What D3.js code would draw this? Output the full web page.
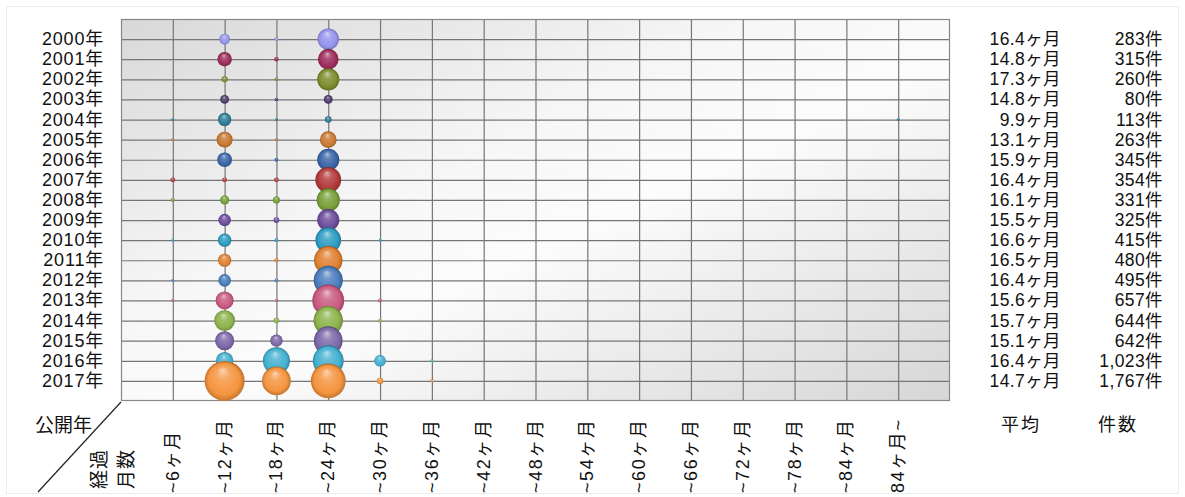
<!DOCTYPE html>
<html>
<head>
<meta charset="utf-8">
<script src="https://cdn.jsdelivr.net/npm/d3@7"></script>
<style>
  html, body { margin: 0; padding: 0; background: #ffffff; }
  svg { display: block; }
  text { font-family: "Liberation Sans", "Noto Sans CJK JP", sans-serif; fill: #111; }
</style>
</head>
<body>
<svg id="chart" width="1185" height="497"></svg>
<script>
// ---------------- data ----------------
const years = ["2000年","2001年","2002年","2003年","2004年","2005年","2006年","2007年","2008年",
  "2009年","2010年","2011年","2012年","2013年","2014年","2015年","2016年","2017年"];
const buckets = ["~6ヶ月","~12ヶ月","~18ヶ月","~24ヶ月","~30ヶ月","~36ヶ月","~42ヶ月","~48ヶ月",
  "~54ヶ月","~60ヶ月","~66ヶ月","~72ヶ月","~78ヶ月","~84ヶ月","84ヶ月~"];
const averages = ["16.4ヶ月","14.8ヶ月","17.3ヶ月","14.8ヶ月","9.9ヶ月","13.1ヶ月","15.9ヶ月","16.4ヶ月",
  "16.1ヶ月","15.5ヶ月","16.6ヶ月","16.5ヶ月","16.4ヶ月","15.6ヶ月","15.7ヶ月","15.1ヶ月","16.4ヶ月","14.7ヶ月"];
const totals = ["283件","315件","260件","80件","113件","263件","345件","354件","331件","325件",
  "415件","480件","495件","657件","644件","642件","1,023件","1,767件"];
// counts per year (rows) for each elapsed-month bucket (columns)
const counts = [
  [0, 55,  7,221, 0,0,0,0,0,0,0,0,0,0,0],
  [0,100,  9,206, 0,0,0,0,0,0,0,0,0,0,0],
  [0, 18,  6,236, 0,0,0,0,0,0,0,0,0,0,0],
  [0, 37,  6, 37, 0,0,0,0,0,0,0,0,0,0,0],
  [3, 85,  3, 21, 0,0,0,0,0,0,0,0,0,0,1],
  [3,122,  3,135, 0,0,0,0,0,0,0,0,0,0,0],
  [0,104,  7,234, 0,0,0,0,0,0,0,0,0,0,0],
  [11,11, 11,321, 0,0,0,0,0,0,0,0,0,0,0],
  [8, 40, 24,259, 0,0,0,0,0,0,0,0,0,0,0],
  [0, 75, 16,234, 0,0,0,0,0,0,0,0,0,0,0],
  [2, 86,  7,316, 4,0,0,0,0,0,0,0,0,0,0],
  [0, 83,  8,389, 0,0,0,0,0,0,0,0,0,0,0],
  [4, 76,  7,408, 0,0,0,0,0,0,0,0,0,0,0],
  [2,155,  4,489, 7,0,0,0,0,0,0,0,0,0,0],
  [0,208, 15,414, 7,0,0,0,0,0,0,0,0,0,0],
  [0,175, 73,394, 0,0,0,0,0,0,0,0,0,0,0],
  [0,146,353,457,65,2,0,0,0,0,0,0,0,0,0],
  [0,768,396,582,19,2,0,0,0,0,0,0,0,0,0]
];
const yearColors = ["#9494ec","#9c2c5c","#7c8c2c","#4c3c6c","#2c7c98","#c87830",
  "#3a64a8","#b23a3a","#78a03a","#6c4c9c","#2c9cc2","#e08030",
  "#4a7cbc","#c85a80","#8cb24c","#7c68a8","#42b0d0","#f4943e"];
const headerYear = "公開年";
const headerMonthLines = ["経過","月数"];
const footerLabels = ["平均","件数"];

// ---------------- layout ----------------
const svg = d3.select("#chart");
const plot = { left: 121, top: 19, right: 950, bottom: 401 };

const x = d3.scalePoint().domain(buckets).range([plot.left, plot.right]).padding(1);
const y = d3.scalePoint().domain(years).range([plot.top, plot.bottom]).padding(1);
const r = d3.scaleSqrt().domain([0, d3.max(counts.flat())]).range([0, 20]);

const defs = svg.append("defs");

// outer faint frame
svg.append("rect").attr("x", 6.5).attr("y", 6.5).attr("width", 1172).attr("height", 487)
  .attr("fill", "none").attr("stroke", "#ececec");

// plot background gradient
const bg = defs.append("linearGradient").attr("id", "bg")
  .attr("x1", 0).attr("y1", 0).attr("x2", 1).attr("y2", 1);
[[0, "#d8d8d8"], [0.38, "#f6f6f6"], [0.55, "#fcfcfc"], [1, "#d6d6d6"]].forEach(([o, c]) =>
  bg.append("stop").attr("offset", o).attr("stop-color", c));

svg.append("rect")
  .attr("x", plot.left).attr("y", plot.top)
  .attr("width", plot.right - plot.left).attr("height", plot.bottom - plot.top)
  .attr("fill", "url(#bg)");

// gridlines via axes
const gridColor = "#767676";
const gx = svg.append("g").attr("transform", `translate(0,${plot.top})`)
  .call(d3.axisBottom(x).tickSize(plot.bottom - plot.top).tickFormat(""));
const gy = svg.append("g").attr("transform", `translate(${plot.left},0)`)
  .call(d3.axisRight(y).tickSize(plot.right - plot.left).tickFormat(""));
[gx, gy].forEach(g => {
  g.select(".domain").remove();
  g.selectAll("line").attr("stroke", gridColor).attr("stroke-width", 1.2);
});

svg.append("rect")
  .attr("x", plot.left + 0.5).attr("y", plot.top + 0.5)
  .attr("width", plot.right - plot.left - 1).attr("height", plot.bottom - plot.top - 1)
  .attr("fill", "none").attr("stroke", "#888").attr("stroke-width", 1.2);

// sphere gradients
yearColors.forEach((c, i) => {
  const base = d3.color(c);
  const g = defs.append("radialGradient").attr("id", "sph" + i)
    .attr("cx", 0.5).attr("cy", 0.55).attr("r", 0.55).attr("fx", 0.45).attr("fy", 0.22);
  g.append("stop").attr("offset", 0).attr("stop-color", d3.interpolateRgb(c, "#ffffff")(0.6));
  g.append("stop").attr("offset", 0.3).attr("stop-color", d3.interpolateRgb(c, "#ffffff")(0.18));
  g.append("stop").attr("offset", 0.72).attr("stop-color", c);
  g.append("stop").attr("offset", 1).attr("stop-color", base.darker(1.1).formatHex());
});

// bubbles
const bubbleData = [];
counts.forEach((row, yi) => row.forEach((v, bi) => {
  if (v > 0) bubbleData.push({ year: years[yi], bucket: buckets[bi], v, yi });
}));
svg.append("g").selectAll("circle").data(bubbleData).join("circle")
  .attr("cx", d => x(d.bucket))
  .attr("cy", d => y(d.year))
  .attr("r", d => Math.max(1.4, r(d.v)))
  .attr("fill", d => `url(#sph${d.yi})`);

// year labels (left)
svg.append("g").selectAll("text").data(years).join("text")
  .attr("x", 104).attr("y", d => y(d))
  .attr("text-anchor", "end").attr("dominant-baseline", "central")
  .style("font-size", "18px").style("letter-spacing", "0.8px")
  .text(d => d);

// averages & totals (right)
svg.append("g").selectAll("text").data(averages).join("text")
  .attr("x", 1061).attr("y", (d, i) => y(years[i]))
  .attr("text-anchor", "end").attr("dominant-baseline", "central")
  .style("font-size", "17.5px").style("letter-spacing", "0.4px")
  .text(d => d);
svg.append("g").selectAll("text").data(totals).join("text")
  .attr("x", 1163).attr("y", (d, i) => y(years[i]))
  .attr("text-anchor", "end").attr("dominant-baseline", "central")
  .style("font-size", "17.5px").style("letter-spacing", "0.4px")
  .text(d => d);

// footer labels
svg.append("g").selectAll("text").data(footerLabels).join("text")
  .attr("x", (d, i) => [1021, 1118][i]).attr("y", 425)
  .attr("text-anchor", "middle").attr("dominant-baseline", "central")
  .style("font-size", "18px").style("letter-spacing", "2px")
  .text(d => d);

// bucket labels (rotated)
svg.append("g").selectAll("text").data(buckets).join("text")
  .attr("transform", d => `translate(${x(d)},493) rotate(-90)`)
  .attr("text-anchor", "start").attr("dominant-baseline", "central")
  .style("font-size", "18px").style("letter-spacing", "1.6px")
  .text(d => d);

// corner header
svg.append("line").attr("x1", plot.left).attr("y1", plot.bottom + 1)
  .attr("x2", 38).attr("y2", 492).attr("stroke", "#222").attr("stroke-width", 1.2);
svg.append("text").attr("x", 92).attr("y", 425)
  .attr("text-anchor", "end").attr("dominant-baseline", "central")
  .style("font-size", "19px").text(headerYear);
svg.append("g").selectAll("text").data(headerMonthLines).join("text")
  .attr("transform", (d, i) => `translate(${[99, 126][i]},489) rotate(-90)`)
  .attr("text-anchor", "start").attr("dominant-baseline", "central")
  .style("font-size", "19px").style("letter-spacing", "1px")
  .text(d => d);
</script>
</body>
</html>
